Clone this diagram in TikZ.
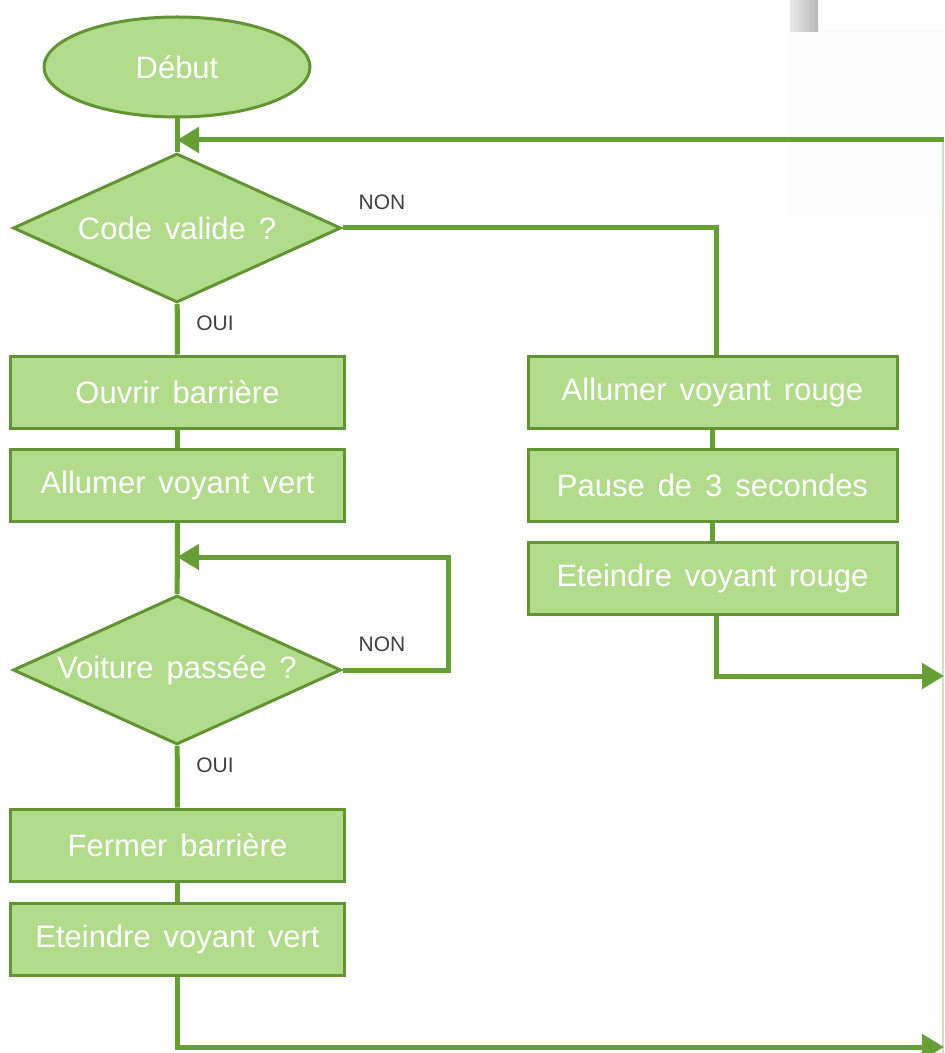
\documentclass[tikz,border=0pt]{standalone}
\usepackage{fontspec}
\setmainfont{Liberation Sans}[WordSpace=1.5]
\usetikzlibrary{shapes.geometric,arrows.meta}
\definecolor{vertfond}{RGB}{178,220,140}
\definecolor{vertbord}{RGB}{98,148,52}
\definecolor{vertligne}{RGB}{103,158,53}
\definecolor{gristexte}{RGB}{64,64,64}
\definecolor{bordclair}{RGB}{208,222,198}
\begin{document}
\begin{tikzpicture}
[x=0.5pt,y=-0.5pt,
  startdecorate/.style={shape=ellipse,draw=vertbord,fill=vertfond,line width=1.5pt,
    inner sep=0pt,minimum width=133pt,minimum height=50pt,text=white,
    font=\fontsize{15.5}{18}\selectfont},%
  testdecorate/.style={shape=diamond,aspect=2.2,draw=vertbord,fill=vertfond,line width=1.5pt,
    inner sep=0pt,minimum width=164pt,minimum height=74.5pt,text=white,
    font=\fontsize{15.5}{18}\selectfont},%
  actiondecorate/.style={shape=rectangle,draw=vertbord,fill=vertfond,line width=1.5pt,
    inner sep=0pt,minimum height=36pt,text=white,font=\fontsize{15.5}{18}\selectfont},%
  linedecorate/.style={-,draw=vertligne,line width=2.5pt},%
  arrowdecorate/.style={-{Triangle[length=11pt,width=12.5pt]},draw=vertligne,line width=2.5pt},%
  labeldecorate/.style={text=gristexte,font=\fontsize{10.5}{12}\selectfont}]
\useasboundingbox (0,0) rectangle (944,1053);
%% background bits on the right
\fill[gray!2] (790,30) rectangle (944,215);
\shade[left color=gray!18,right color=gray!55] (790,0) rectangle (818,32);
\draw[bordclair,line width=0.6pt] (943,142) -- (943,1053);
%% nodes
\node (debut) at (177,67) [startdecorate] {Début};
\node (code) at (177,228) [testdecorate] {Code valide ?};
\node (voiture) at (177,670) [testdecorate] {Voiture passée ?};
\foreach \nodename/\x/\y/\largeur/\texte in {
  ouvrir/177.5/392/167pt/Ouvrir barrière,
  vertallume/177.5/485/167pt/Allumer voyant vert,
  fermer/177.5/845/167pt/Fermer barrière,
  vertetein/177.5/939/167pt/Eteindre voyant vert,
  rougeallume/712.5/392/184.5pt/Allumer voyant rouge,
  pause/712.5/485/184.5pt/Pause de 3 secondes,
  rougetein/712.5/578/184.5pt/Eteindre voyant rouge}
{
  \node (\nodename) at (\x,\y) [actiondecorate,minimum width=\largeur] {\texte};
}
%% free ends
\coordinate (retour) at (944,140);
\coordinate (boucle) at (448,557);
\coordinate (sortierouge) at (944,676);
\coordinate (sortiebas) at (944,1047);
%% edges or lines
\path
\foreach \startnode/\endnode in {debut/code, code/ouvrir, ouvrir/vertallume,
  vertallume/voiture, voiture/fermer, fermer/vertetein,
  rougeallume/pause, pause/rougetein} {
  (\startnode) edge[linedecorate] (\endnode)
};
\draw[arrowdecorate] (retour) -- (retour -| code);
\draw[linedecorate] (code.east) -| ([xshift=1.75pt]rougeallume.north);
\draw[arrowdecorate] (voiture.east) -| (boucle) -- (boucle -| voiture);
\draw[arrowdecorate] ([xshift=1.75pt]rougetein.south) |- (sortierouge);
\draw[arrowdecorate] (vertetein.south) |- (sortiebas);
%% labels
\node at (382,202) [labeldecorate] {NON};
\node at (382,644) [labeldecorate] {NON};
\node at (215,323) [labeldecorate] {OUI};
\node at (215,765) [labeldecorate] {OUI};
\end{tikzpicture}
\end{document}
